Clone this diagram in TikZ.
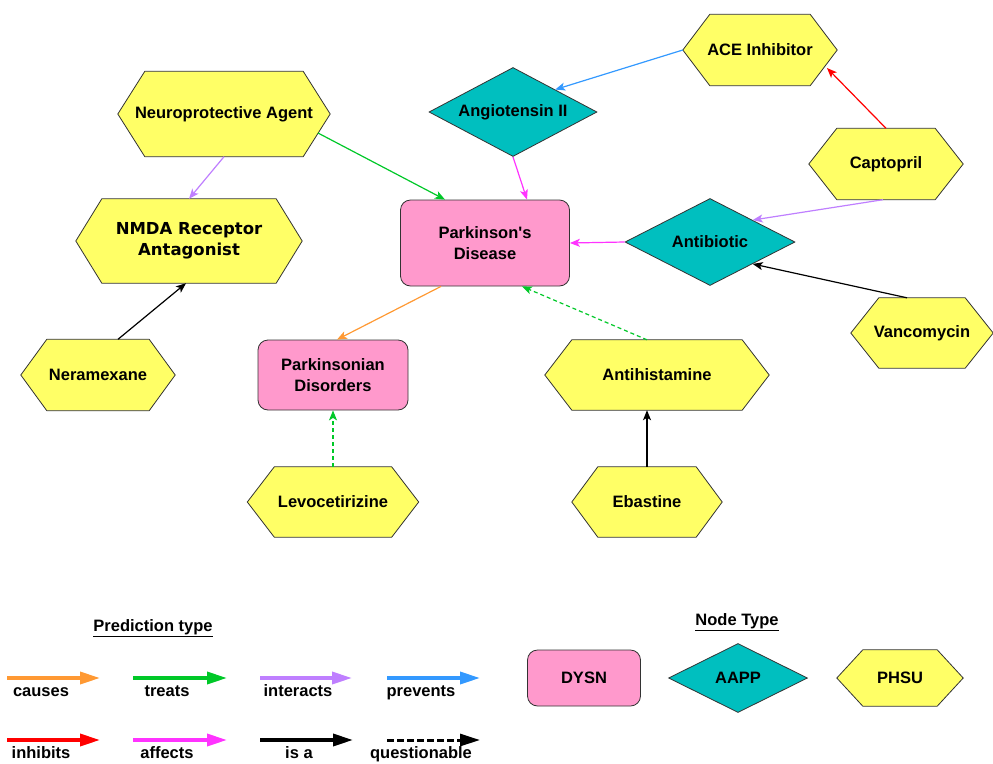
\documentclass[tikz,border=0pt]{standalone}
\usepackage{fontspec}
\setmainfont{Liberation Sans}
\newfontfamily\verd{DejaVu Sans}
\usetikzlibrary{shapes.geometric,arrows.meta,backgrounds}
\definecolor{hexy}{RGB}{255,255,102}
\definecolor{tealn}{RGB}{0,191,191}
\definecolor{pinkn}{RGB}{255,153,204}
\definecolor{ccause}{RGB}{255,153,51}
\definecolor{ctreat}{RGB}{0,200,40}
\definecolor{cinter}{RGB}{191,127,255}
\definecolor{cprev}{RGB}{51,153,255}
\definecolor{cinhib}{RGB}{255,0,0}
\definecolor{caff}{RGB}{255,51,255}
\tikzset{
  lbl/.style={font=\bfseries\fontsize{16.5}{21}\selectfont, align=center, text=black},
  hexbox/.style={lbl, rectangle, inner sep=0pt},
  hexline/.style={draw=black!80, fill=hexy, line width=0.8pt, line join=miter},
  diam/.style={lbl, diamond, aspect=3, draw=black!80, fill=tealn, line width=0.8pt, inner sep=0pt},
  dysn/.style={lbl, rectangle, rounded corners=10pt, draw=black!80, fill=pinkn, line width=0.8pt, inner sep=0pt},
  conn/.style={line width=1.2pt, -{Stealth[length=10pt,width=8pt,inset=2.5pt]}},
  qdash/.style={dash pattern=on 4pt off 3pt},
  leg/.style={line width=3.5pt, -{Triangle[length=20pt,width=12pt]}},
  leglbl/.style={lbl, anchor=base},
}
% \hexnode[extra options]{name}{x,y}{width}{height}{inset}{text}
\newcommand\hexnode[7][]{%
  \node[hexbox, minimum width=#4pt, minimum height=#5pt, #1] (#2) at (#3) {#7};
  \begin{scope}[on background layer]
    \path[hexline] (#2.west) -- ([xshift=#6pt]#2.north west) -- ([xshift=-#6pt]#2.north east)
      -- (#2.east) -- ([xshift=-#6pt]#2.south east) -- ([xshift=#6pt]#2.south west) -- cycle;
  \end{scope}}
\begin{document}
\begin{tikzpicture}[x=1pt,y=-1pt]
\useasboundingbox (0,0) rectangle (993,763);
% nodes
\hexnode{ace}{760,50}{154}{71}{27}{ACE Inhibitor}
\hexnode{cap}{886,164}{154}{71}{28}{Captopril}
\node[diam, minimum width=170pt, minimum height=87pt] (ab) at (710,242) {Antibiotic};
\hexnode{van}{922,333}{142}{70}{28}{Vancomycin}
\node[diam, minimum width=168pt, minimum height=89pt] (ang) at (513,112) {Angiotensin II};
\node[dysn, minimum width=169pt, minimum height=86pt] (pd) at (485,243) {Parkinson\textquotesingle s\\Disease};
\hexnode{np}{224,114}{212}{85}{27}{Neuroprotective Agent}
\hexnode[font=\verd\bfseries\fontsize{16.5}{21}\selectfont]{nmda}{189,241}{226}{84}{26}{NMDA Receptor\\Antagonist}
\hexnode{ner}{98,375}{154}{71}{26}{Neramexane}
\node[dysn, minimum width=150pt, minimum height=70pt] (pad) at (333,375) {Parkinsonian\\Disorders};
\hexnode{ah}{657,375}{224}{70}{27}{Antihistamine}
\hexnode{levo}{333,502}{171}{70}{27}{Levocetirizine}
\hexnode{eba}{647,502}{150}{70}{26}{Ebastine}
% connectors
\draw[conn, caff] (ang.south) -- ([xshift=42pt]pd.north);
\draw[conn, cprev] (ace.west) -- (ang.north east);
\draw[conn, cinhib] (cap.north) -- ([xshift=67pt,yshift=-18pt]ace.center);
\draw[conn, cinter] ([xshift=-3pt]cap.south) -- (ab.north east);
\draw[conn, black] ([xshift=-15pt]van.north) -- (ab.south east);
\draw[conn, caff] (ab.west) -- (pd.east);
\draw[conn, ctreat] ([xshift=94pt,yshift=-19pt]np.center) -- ([xshift=-40pt]pd.north);
\draw[conn, cinter] (np.south) -- (nmda.north);
\draw[conn, black] ([xshift=20pt]ner.north) -- ([xshift=-3pt]nmda.south);
\draw[conn, ccause] ([xshift=-44pt]pd.south) -- ([xshift=4pt]pad.north);
\draw[conn, ctreat, qdash] ([xshift=-10pt]ah.north) -- ([xshift=37pt]pd.south);
\draw[conn, ctreat, qdash] (levo.north) -- (pad.south);
\draw[conn, black] (eba.north) -- ([xshift=-10pt]ah.south);
% legend: prediction type
\node[lbl] (pt) at (153,628) {\underline{Prediction type}};
\coordinate (a1) at (7,678);   \coordinate (b1) at (100,678);
\coordinate (a2) at (133,678); \coordinate (b2) at (227,678);
\coordinate (a3) at (260,678); \coordinate (b3) at (352,678);
\coordinate (a4) at (387,678); \coordinate (b4) at (480,678);
\coordinate (a5) at (7,740);   \coordinate (b5) at (100,740);
\coordinate (a6) at (133,740); \coordinate (b6) at (227,740);
\coordinate (a7) at (260,740); \coordinate (b7) at (353,740);
\coordinate (a8) at (387,740); \coordinate (b8) at (480,740);
\draw[leg, ccause] (a1) -- (b1);
\draw[leg, ctreat] (a2) -- (b2);
\draw[leg, cinter] (a3) -- (b3);
\draw[leg, cprev] (a4) -- (b4);
\draw[leg, cinhib] (a5) -- (b5);
\draw[leg, caff] (a6) -- (b6);
\draw[leg, black] (a7) -- (b7);
\draw[leg, black, line width=3pt, dash pattern=on 7pt off 3pt] (a8) -- (b8);
\node[leglbl] (l1) at (41,696) {causes};
\node[leglbl] (l2) at (167,696) {treats};
\node[leglbl] (l3) at (298,696) {interacts};
\node[leglbl] (l4) at (421,696) {prevents};
\node[leglbl] (l5) at (41,758) {inhibits};
\node[leglbl] (l6) at (167,758) {affects};
\node[leglbl] (l7) at (299,758) {is a};
\node[leglbl] (l8) at (421,758) {questionable};
% legend: node type
\node[lbl] (nt) at (737,622) {\underline{Node Type}};
\node[dysn, minimum width=113pt, minimum height=56pt] (kd) at (584,678) {DYSN};
\node[diam, minimum width=139pt, minimum height=69pt] (ka) at (738,678) {AAPP};
\hexnode{kp}{900,678}{126}{56}{26}{PHSU}
\end{tikzpicture}
\end{document}
